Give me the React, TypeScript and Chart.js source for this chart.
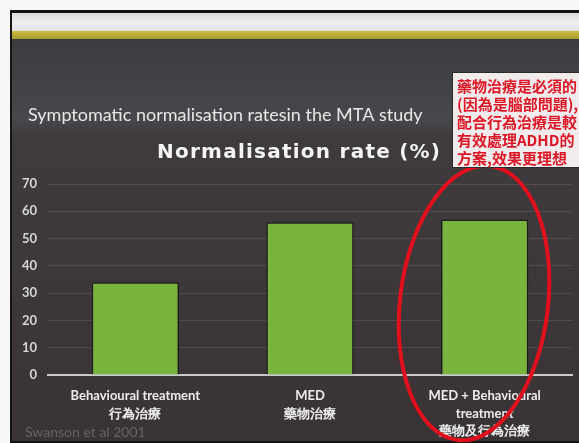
import React, { useEffect, useRef } from "react";
import { Chart, registerables } from "chart.js";

Chart.register(...registerables);

// ---- data ----
const categories: string[][] = [
  ["Behavioural treatment", "行為治療"],
  ["MED", "藥物治療"],
  ["MED + Behavioural", "treatment", "藥物及行為治療"],
];
const normalisationRates = [34, 56, 57];
const yMin = 0;
const yMax = 70;
const yStep = 10;
const slideTitle = "Symptomatic normalisation ratesin the MTA study";
const chartTitle = "Normalisation rate (%)";
const noteLines = [
  "藥物治療是必須的",
  "(因為是腦部問題),",
  "配合行為治療是較",
  "有效處理ADHD的",
  "方案,效果更理想",
];
const sourceNote = "Swanson et al 2001";

const slidePlugin = {
  id: "slide",
  beforeDraw(chart: any) {
    const { ctx, width, height } = chart;
    ctx.save();
    ctx.fillStyle = "#f7f7f7";
    ctx.fillRect(0, 0, width, height);
    ctx.fillStyle = "#151515";
    ctx.fillRect(10, 10, width - 10, height - 10);
    let g = ctx.createLinearGradient(0, 13, 0, 31);
    g.addColorStop(0, "#dcdde0");
    g.addColorStop(0.5, "#efeff1");
    g.addColorStop(1, "#e2e2e4");
    ctx.fillStyle = g;
    ctx.fillRect(12, 13, width - 12, 18);
    g = ctx.createLinearGradient(0, 31, 0, 39);
    g.addColorStop(0, "#d0be40");
    g.addColorStop(1, "#a99b30");
    ctx.fillStyle = g;
    ctx.fillRect(12, 31, width - 12, 8);
    g = ctx.createLinearGradient(0, 39, 0, 441);
    g.addColorStop(0, "#3a3c3f");
    g.addColorStop(0.2, "#46484b");
    g.addColorStop(0.24, "#3f3b3d");
    g.addColorStop(1, "#3a3335");
    ctx.fillStyle = g;
    ctx.fillRect(12, 39, width - 12, 402);

    ctx.textBaseline = "middle";
    ctx.textAlign = "left";
    ctx.fillStyle = "#e8e8e8";
    ctx.font = "18px Lato";
    ctx.fillText(slideTitle, 28, 115);

    ctx.font = "bold 20px 'DejaVu Sans'";
    ctx.fillStyle = "#f4f4f4";
    const w = ctx.measureText(chartTitle).width;
    const ls = Math.max(0, (283 - w) / (chartTitle.length - 1));
    (ctx as any).letterSpacing = ls + "px";
    ctx.fillText(chartTitle, 157, 153);
    (ctx as any).letterSpacing = "0px";

    ctx.font = "14px Lato";
    ctx.fillStyle = "#676161";
    ctx.fillText(sourceNote, 25, 432);
    ctx.restore();
  },
  afterDraw(chart: any) {
    const { ctx } = chart;
    ctx.save();
    ctx.strokeStyle = "#e2101c";
    ctx.lineWidth = 4;
    ctx.beginPath();
    ctx.ellipse(474, 303, 74, 138, 0.12, 0, Math.PI * 2);
    ctx.stroke();

    ctx.fillStyle = "#f1ebec";
    ctx.fillRect(452, 72, 140, 96);
    ctx.strokeStyle = "#2a2a2a";
    ctx.lineWidth = 1;
    ctx.strokeRect(452.5, 72.5, 140, 95);
    ctx.fillStyle = "#dd1626";
    ctx.font = "bold 15px 'Noto Sans CJK TC'";
    ctx.textBaseline = "middle";
    ctx.textAlign = "left";
    noteLines.forEach((t, i) => ctx.fillText(t, 457, 86 + i * 18));
    ctx.restore();
  },
};

export default function App() {
  const ref = useRef<HTMLCanvasElement | null>(null);
  useEffect(() => {
    if (!ref.current) return;
    const chart = new Chart(ref.current, {
      type: "bar",
      data: {
        labels: categories as any,
        datasets: [
          {
            data: normalisationRates,
            backgroundColor: "#79b43e",
            borderColor: "#1e1e1e",
            borderWidth: 1.5,
            borderSkipped: "bottom",
            barPercentage: 0.5,
            categoryPercentage: 1.0,
          },
        ],
      },
      options: {
        responsive: false,
        animation: false,
        devicePixelRatio: 1,
        layout: { padding: { left: 0, right: 7, top: 184, bottom: 0 } },
        plugins: { legend: { display: false }, tooltip: { enabled: false }, title: { display: false } },
        scales: {
          x: {
            grid: { display: false, drawTicks: false },
            border: { display: true, color: "#c9c9c9", width: 2 },
            ticks: {
              color: "#ececec",
              font: { family: "Lato", size: 13, weight: "bold", lineHeight: 1.35 },
              padding: 12,
              maxRotation: 0,
              autoSkip: false,
            },
            afterFit: (s: any) => {
              s.height = 68;
            },
          },
          y: {
            min: yMin,
            max: yMax,
            grid: { color: "rgba(255,255,255,0.10)", drawTicks: false, lineWidth: 1 },
            border: { display: false },
            ticks: {
              stepSize: yStep,
              color: "#d6d6d6",
              font: { family: "Lato", size: 13, weight: "bold" },
              padding: 11,
            },
            afterFit: (s: any) => {
              s.width = 48;
            },
          },
        },
      },
      plugins: [slidePlugin],
    });
    return () => chart.destroy();
  }, []);
  return (
    <div style={{ position: "fixed", left: 0, top: 0, width: 579, height: 443 }}>
      <canvas ref={ref} width={579} height={443} />
    </div>
  );
}
